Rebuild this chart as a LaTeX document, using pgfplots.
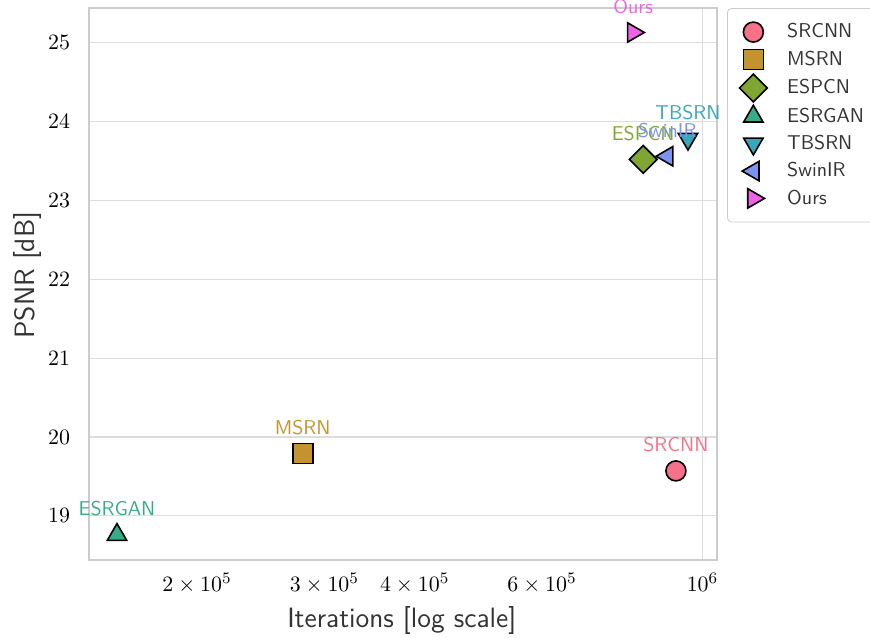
\documentclass[border=0pt]{standalone}
\usepackage{pgfplots}
\pgfplotsset{compat=1.18}
\definecolor{cA}{HTML}{F77189}
\definecolor{cB}{HTML}{C39330}
\definecolor{cC}{HTML}{7FA632}
\definecolor{cD}{HTML}{36AD8A}
\definecolor{cE}{HTML}{39A7BB}
\definecolor{cF}{HTML}{7D93F0}
\definecolor{cG}{HTML}{EE63E6}
\definecolor{spine}{HTML}{CCCCCC}
\definecolor{gridc}{HTML}{DDDDDD}
\begin{document}
\begin{tikzpicture}
\begin{axis}[
  scale only axis, width=314pt, height=276pt,
  xmode=log, xmin=1.418e5, xmax=1.0476e6,
  ymin=18.44, ymax=25.44,
  ytick={19,20,21,22,23,24,25},
  xtick={1e6}, xticklabels={$10^{6}$},
  extra x ticks={2e5,3e5,4e5,6e5},
  extra x tick labels={$2\times10^{5}$,$3\times10^{5}$,$4\times10^{5}$,$6\times10^{5}$},
  extra x tick style={grid=none},
  minor x tick num=0,
  grid=major,
  major grid style={draw=gridc, line width=0.6pt},
  axis line style={draw=spine, line width=0.9pt},
  major tick length=0pt, minor tick length=0pt,
  tick label style={font=\fontsize{11}{13}\selectfont},
  yticklabel style={xshift=-6pt},
  xticklabel style={yshift=-3pt},
  xlabel={Iterations [log scale]},
  ylabel={PSNR [dB]},
  label style={font=\fontsize{14}{17}\sffamily, text=black!80},
  xlabel style={at={(axis description cs:0.498,-0.1087)}, anchor=center},
  ylabel style={at={(axis description cs:-0.0987,0.516)}, anchor=center},
  clip=false,
  legend style={at={(1.016,1)}, anchor=north west, draw=spine, rounded corners=2pt,
    font=\fontsize{10}{12}\sffamily, text=black!80, row sep=1.0pt, inner xsep=6pt, inner ysep=5.5pt,
    /tikz/every odd column/.append style={column sep=8pt}},
  legend cell align=left,
  every node near coord/.append style={anchor=base, yshift=9.5pt, inner sep=0pt, font=\fontsize{10}{12}\sffamily},
]
\addplot[only marks, mark=*, mark size=5pt, mark options={fill=cA, draw=black, line width=0.8pt},
  nodes near coords={SRCNN}, every node near coord/.append style={text=cA}]
  coordinates {(9.19e5,19.57)};
\addlegendentry{SRCNN}
\addplot[only marks, mark=square*, mark size=5pt, mark options={fill=cB, draw=black, line width=0.8pt},
  nodes near coords={MSRN}, every node near coord/.append style={text=cB}]
  coordinates {(2.80e5,19.79)};
\addlegendentry{MSRN}
\addplot[only marks, mark=square*, mark size=4.9pt, mark options={fill=cC, draw=black, line width=0.8pt, rotate=45},
  nodes near coords={ESPCN}, every node near coord/.append style={text=cC}]
  coordinates {(8.28e5,23.52)};
\addlegendentry{ESPCN}
\addplot[only marks, mark=triangle*, mark size=5.6pt, mark options={fill=cD, draw=black, line width=0.8pt},
  nodes near coords={ESRGAN}, every node near coord/.append style={text=cD}]
  coordinates {(1.55e5,18.76)};
\addlegendentry{ESRGAN}
\addplot[only marks, mark=triangle*, mark size=5.6pt, mark options={fill=cE, draw=black, line width=0.8pt, rotate=180},
  nodes near coords={TBSRN}, every node near coord/.append style={text=cE}]
  coordinates {(9.55e5,23.78)};
\addlegendentry{TBSRN}
\addplot[only marks, mark=triangle*, mark size=5.6pt, mark options={fill=cF, draw=black, line width=0.8pt, rotate=90},
  nodes near coords={SwinIR}, every node near coord/.append style={text=cF}]
  coordinates {(8.94e5,23.56)};
\addlegendentry{SwinIR}
\addplot[only marks, mark=triangle*, mark size=5.6pt, mark options={fill=cG, draw=black, line width=0.8pt, rotate=-90},
  nodes near coords={Ours}, every node near coord/.append style={text=cG}]
  coordinates {(8.02e5,25.13)};
\addlegendentry{Ours}
\end{axis}
\pgfresetboundingbox
\path (-44.5pt,-38.5pt) rectangle (390.5pt,280pt);
\end{tikzpicture}
\end{document}
